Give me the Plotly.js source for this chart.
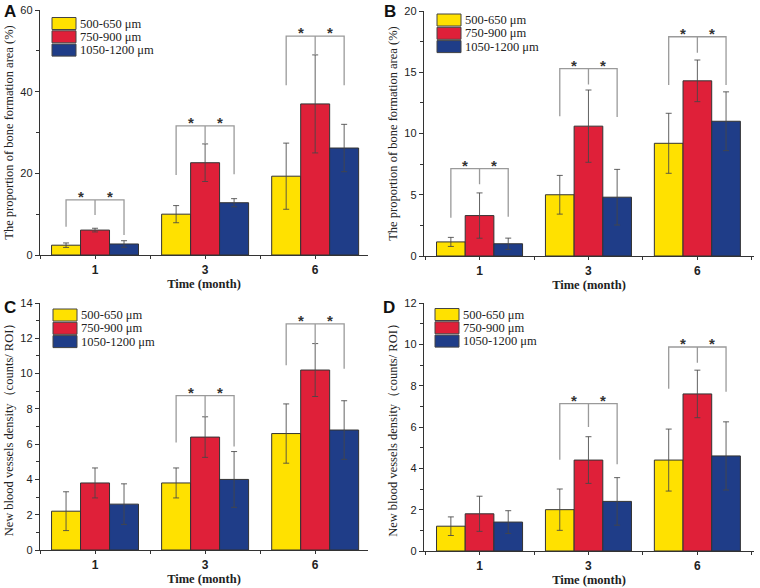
<!DOCTYPE html>
<html>
<head>
<meta charset="utf-8">
<script src="https://cdn.plot.ly/plotly-3.0.1.min.js"></script>
<style>html,body{margin:0;padding:0;background:#fff;}#chart{width:760px;height:588px;}</style>
</head>
<body>
<div id="chart"></div>
<script>
// ---------- data ----------
const categories = ['1', '3', '6'];
const seriesNames = ['500-650 μm', '750-900 μm', '1050-1200 μm'];
const seriesColors = ['#FFE100', '#DF2039', '#1F3D88'];

// Panel A: proportion of bone formation area (%)
const A_500 = [2.4, 10.0, 19.3];   const A_500_err = [0.55, 2.1, 8.1];
const A_750 = [6.1, 22.6, 37.0];   const A_750_err = [0.45, 4.6, 12.0];
const A_1050 = [2.7, 12.8, 26.2];  const A_1050_err = [0.8, 1.0, 5.8];
const A_sigIdx = [0, 1, 2];
const A_sigTop = [13.5, 31.6, 53.6];
const A_sigLeft = [6.9, 19.6, 41.6];
const A_sigRight = [4.9, 19.8, 41.6];
const A_sigMid = [9.8, 27.2, 49.0];

// Panel B: proportion of bone formation area (%)
const B_500 = [1.15, 5.0, 9.2];    const B_500_err = [0.37, 1.58, 2.45];
const B_750 = [3.3, 10.6, 14.3];   const B_750_err = [1.85, 2.95, 1.7];
const B_1050 = [1.0, 4.8, 11.0];   const B_1050_err = [0.46, 2.27, 2.4];
const B_sigIdx = [0, 1, 2];
const B_sigTop = [7.13, 15.3, 17.9];
const B_sigLeft = [3.13, 11.4, 13.96];
const B_sigRight = [3.2, 11.35, 13.96];
const B_sigMid = [5.85, 14.0, 16.6];

// Panel C: new blood vessels density
const C_500 = [2.2, 3.8, 6.6];     const C_500_err = [1.1, 0.85, 1.68];
const C_750 = [3.8, 6.4, 10.2];    const C_750_err = [0.85, 1.15, 1.5];
const C_1050 = [2.6, 4.0, 6.8];    const C_1050_err = [1.15, 1.58, 1.66];
const C_sigIdx = [1, 2];
const C_sigTop = [8.75, 12.82];
const C_sigLeft = [6.09, 10.47];
const C_sigRight = [5.86, 10.28];
const C_sigMid = [7.56, 11.68];

// Panel D: new blood vessels density
const D_500 = [1.2, 2.0, 4.4];     const D_500_err = [0.45, 1.0, 1.5];
const D_750 = [1.8, 4.4, 7.6];     const D_750_err = [0.85, 1.13, 1.15];
const D_1050 = [1.4, 2.4, 4.6];    const D_1050_err = [0.55, 1.15, 1.65];
const D_sigIdx = [1, 2];
const D_sigTop = [7.13, 9.87];
const D_sigLeft = [4.42, 7.85];
const D_sigRight = [4.2, 7.71];
const D_sigMid = [6.0, 9.11];

const yTitleBone = 'The proportion of bone formation area (%)';
const yTitleVessel = 'New blood vessels density（counts/ ROI）';
const xTitle = 'Time (month)';

// ---------- layout helpers ----------
const W = 760, H = 588;
const px = x => x / W;
const py = y => 1 - y / H;
const BARGAP = 0.21;
const offset = (1 - BARGAP) / 3;
const xPos = categories.map((_, i) => i);

const panels = [
  {letter: 'A', xa: 'x', ya: 'y', xd: [40, 368], yd: [10, 255], xr: [-0.5, 2.48], yr: [0, 60], dt: 20, mdt: 10,
   vals: [A_500, A_750, A_1050], errs: [A_500_err, A_750_err, A_1050_err], ytitle: yTitleBone,
   sig: {idx: A_sigIdx, top: A_sigTop, left: A_sigLeft, right: A_sigRight, mid: A_sigMid},
   legX: 52, legY: 23.5, letterPos: [2, 0]},
  {letter: 'B', xa: 'x2', ya: 'y2', xd: [424, 754], yd: [11, 256], xr: [-0.51, 2.52], yr: [0, 20], dt: 5, mdt: 2.5,
   vals: [B_500, B_750, B_1050], errs: [B_500_err, B_750_err, B_1050_err], ytitle: yTitleBone,
   sig: {idx: B_sigIdx, top: B_sigTop, left: B_sigLeft, right: B_sigRight, mid: B_sigMid},
   legX: 437, legY: 20, letterPos: [382, 0]},
  {letter: 'C', xa: 'x3', ya: 'y3', xd: [40, 368], yd: [303, 550], xr: [-0.5, 2.48], yr: [0, 14], dt: 2, mdt: 1,
   vals: [C_500, C_750, C_1050], errs: [C_500_err, C_750_err, C_1050_err], ytitle: yTitleVessel,
   sig: {idx: C_sigIdx, top: C_sigTop, left: C_sigLeft, right: C_sigRight, mid: C_sigMid},
   legX: 53, legY: 315, letterPos: [2, 296]},
  {letter: 'D', xa: 'x4', ya: 'y4', xd: [424, 754], yd: [303, 551], xr: [-0.51, 2.52], yr: [0, 12], dt: 2, mdt: 1,
   vals: [D_500, D_750, D_1050], errs: [D_500_err, D_750_err, D_1050_err], ytitle: yTitleVessel,
   sig: {idx: D_sigIdx, top: D_sigTop, left: D_sigLeft, right: D_sigRight, mid: D_sigMid},
   legX: 435, legY: 314.5, letterPos: [381, 296]}
];

const traces = [];
const shapes = [];
const annotations = [];
const layout = {
  width: W, height: H,
  margin: {l: 0, r: 0, t: 0, b: 0},
  paper_bgcolor: '#ffffff', plot_bgcolor: '#ffffff',
  barmode: 'group', bargap: BARGAP, bargroupgap: 0,
  showlegend: false,
  font: {family: 'Liberation Serif, serif', color: '#222'}
};

panels.forEach((p, pi) => {
  const sfx = pi === 0 ? '' : String(pi + 1);
  p.vals.forEach((vals, si) => {
    traces.push({
      type: 'bar', name: seriesNames[si], x: xPos, y: vals,
      xaxis: p.xa, yaxis: p.ya, showlegend: false,
      marker: {color: seriesColors[si], line: {color: '#333', width: 1}},
      error_y: {type: 'data', array: p.errs[si], visible: true, color: 'rgba(70,70,70,0.85)', thickness: 1, width: 3}
    });
  });
  layout['xaxis' + sfx] = {
    domain: [px(p.xd[0]), px(p.xd[1])], anchor: p.ya, range: p.xr,
    tickmode: 'array', tickvals: xPos, ticktext: categories,
    ticks: 'outside', ticklen: 3, tickcolor: '#333', tickwidth: 1,
    minor: {ticks: 'outside', tick0: 0.5, dtick: 1, ticklen: 3, tickcolor: '#333'},
    showline: true, linecolor: '#333', linewidth: 1.2, showgrid: false, zeroline: false,
    tickfont: {family: 'Liberation Sans, Arial, sans-serif', size: 12, color: '#222', weight: 'bold'},
    title: {text: xTitle, font: {family: 'Liberation Serif, serif', size: 12.5, color: '#222', weight: 'bold'}, standoff: 2}
  };
  layout['yaxis' + sfx] = {
    domain: [py(p.yd[1]), py(p.yd[0])], anchor: p.xa, range: p.yr,
    tick0: 0, dtick: p.dt,
    ticks: 'outside', ticklen: 4, tickcolor: '#333', tickwidth: 1,
    minor: {ticks: 'outside', dtick: p.mdt, ticklen: 2.5, tickcolor: '#333'},
    showline: true, linecolor: '#333', linewidth: 1.2, showgrid: false, zeroline: false,
    tickfont: {family: 'Liberation Sans, Arial, sans-serif', size: 11, color: '#222'},
    title: {text: p.ytitle, font: {family: 'Liberation Serif, serif', size: 12.5, color: '#222'}, standoff: 4}
  };
  // significance brackets
  p.sig.idx.forEach((ci, k) => {
    const xl = xPos[ci] - offset, xr = xPos[ci] + offset, xm = xPos[ci];
    shapes.push({
      type: 'path', xref: p.xa, yref: p.ya,
      path: `M${xl},${p.sig.left[k]} L${xl},${p.sig.top[k]} L${xr},${p.sig.top[k]} L${xr},${p.sig.right[k]} M${xm},${p.sig.top[k]} L${xm},${p.sig.mid[k]}`,
      line: {color: '#9a9a9a', width: 1.3}
    });
    [xPos[ci] - offset / 2, xPos[ci] + offset / 2].forEach(xs => {
      annotations.push({
        xref: p.xa, yref: p.ya, x: xs, y: p.sig.top[k], text: '*', showarrow: false,
        xanchor: 'center', yanchor: 'bottom', yshift: -7,
        font: {family: 'Liberation Sans, Arial, sans-serif', size: 15, color: '#333', weight: 'bold'}
      });
    });
  });
  // custom legend (swatches + labels)
  seriesNames.forEach((nm, si) => {
    const cy = p.legY + si * 13.3;
    shapes.push({
      type: 'rect', xref: 'paper', yref: 'paper',
      x0: px(p.legX), x1: px(p.legX + 24), y0: py(cy + 6), y1: py(cy - 6),
      fillcolor: seriesColors[si], line: {color: '#444', width: 1}
    });
    annotations.push({
      xref: 'paper', yref: 'paper', x: px(p.legX + 26), y: py(cy), text: nm, showarrow: false,
      xanchor: 'left', yanchor: 'middle',
      font: {family: 'Liberation Serif, serif', size: 12.5, color: '#222'}
    });
  });
  // panel letter
  annotations.push({
    xref: 'paper', yref: 'paper', x: px(p.letterPos[0]), y: py(p.letterPos[1]), text: p.letter,
    showarrow: false, xanchor: 'left', yanchor: 'top',
    font: {family: 'Liberation Sans, Arial, sans-serif', size: 17, color: '#111', weight: 'bold'}
  });
});

layout.shapes = shapes;
layout.annotations = annotations;

Plotly.newPlot('chart', traces, layout, {staticPlot: true, displayModeBar: false});
</script>
</body>
</html>
